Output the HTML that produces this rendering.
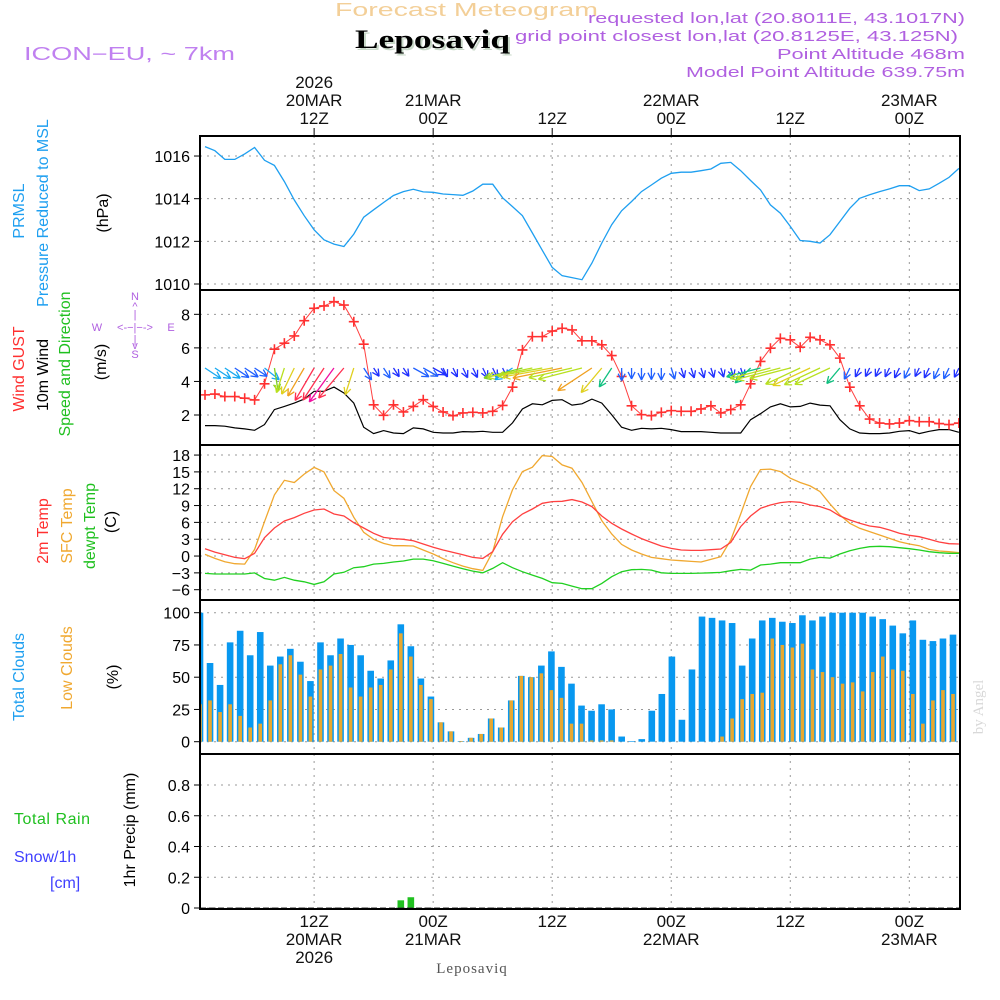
<!DOCTYPE html>
<html><head><meta charset="utf-8">
<style>
body{margin:0;background:#fff;}
svg{display:block;font-family:"Liberation Sans",sans-serif;}
</style></head>
<body>
<svg id="chart" width="1000" height="1000" viewBox="0 0 1000 1000" xmlns="http://www.w3.org/2000/svg">
<rect width="1000" height="1000" fill="#fff"/>
<text x="335" y="16" textLength="263" lengthAdjust="spacingAndGlyphs" fill="#f3cf98" font-size="18">Forecast Meteogram</text>
<text x="357" y="50" textLength="155" lengthAdjust="spacingAndGlyphs" fill="#c8d8c8" font-size="26" font-weight="bold" font-family="Liberation Serif, serif">Leposaviq</text>
<text x="355" y="48" textLength="155" lengthAdjust="spacingAndGlyphs" fill="#000" font-size="26" font-weight="bold" font-family="Liberation Serif, serif">Leposaviq</text>
<text x="24" y="60" textLength="211" lengthAdjust="spacingAndGlyphs" fill="#c080f0" font-size="18">ICON−EU, ~ 7km</text>
<g fill="#b060e0" font-size="15">
<text x="588" y="23" textLength="377" lengthAdjust="spacingAndGlyphs">requested lon,lat (20.8011E, 43.1017N)</text>
<text x="515" y="41" textLength="443" lengthAdjust="spacingAndGlyphs">grid point closest lon,lat (20.8125E, 43.125N)</text>
<text x="777" y="59" textLength="188" lengthAdjust="spacingAndGlyphs">Point Altitude 468m</text>
<text x="686" y="77" textLength="279" lengthAdjust="spacingAndGlyphs">Model Point Altitude 639.75m</text>
</g>
<g id="left-labels" font-size="16">
<text transform="translate(24,211) rotate(-90)" text-anchor="middle" fill="#1e9ff0">PRMSL</text>
<text transform="translate(48,213) rotate(-90)" text-anchor="middle" fill="#1e9ff0">Pressure Reduced to MSL</text>
<text transform="translate(108,213) rotate(-90)" text-anchor="middle" fill="#000">(hPa)</text>
<text transform="translate(24,369) rotate(-90)" text-anchor="middle" fill="#ff3030">Wind GUST</text>
<text transform="translate(48,375) rotate(-90)" text-anchor="middle" fill="#000">10m Wind</text>
<text transform="translate(70,364) rotate(-90)" text-anchor="middle" fill="#20c020">Speed and Direction</text>
<text transform="translate(106,362) rotate(-90)" text-anchor="middle" fill="#000">(m/s)</text>
<g fill="#b060e0" font-size="11" text-anchor="middle">
<text x="135" y="300">N</text><text x="135" y="310">^</text><text x="135" y="318">|</text>
<text x="97" y="331">W</text><text x="135" y="331">&lt;-−|−-&gt;</text><text x="171" y="331">E</text>
<text x="135" y="343">|</text><text x="135" y="349">v</text><text x="135" y="358">S</text>
</g>
<text transform="translate(48,531) rotate(-90)" text-anchor="middle" fill="#ff3030">2m Temp</text>
<text transform="translate(72,526) rotate(-90)" text-anchor="middle" fill="#f0a830">SFC Temp</text>
<text transform="translate(95,526) rotate(-90)" text-anchor="middle" fill="#20c020">dewpt Temp</text>
<text transform="translate(116,522) rotate(-90)" text-anchor="middle" fill="#000">(C)</text>
<text transform="translate(24,677) rotate(-90)" text-anchor="middle" fill="#1e9ff0">Total Clouds</text>
<text transform="translate(72,668) rotate(-90)" text-anchor="middle" fill="#f0a830">Low Clouds</text>
<text transform="translate(118,677) rotate(-90)" text-anchor="middle" fill="#000">(%)</text>
<text transform="translate(135,830) rotate(-90)" text-anchor="middle" fill="#000">1hr Precip (mm)</text>
<text x="14" y="824" textLength="76" lengthAdjust="spacing" fill="#20c020">Total Rain</text>
<text x="14" y="862" fill="#4040ff">Snow/1h</text>
<text x="50" y="888" fill="#4040ff">[cm]</text>
</g>
<text transform="translate(983,707) rotate(-90)" text-anchor="middle" fill="#d8d8d8" font-size="15" font-family="Liberation Serif, serif">by Angel</text>
<text x="472" y="973" text-anchor="middle" fill="#555" font-size="15" font-family="Liberation Serif, serif" letter-spacing="1">Leposaviq</text>
<g id="grid"></g>
<g id="marks"></g>
<g id="frames"></g>
</svg>
<script>
const hoursPressure = [1016.44,1016.25,1015.84,1015.84,1016.1,1016.4,1015.8,1015.56,1014.8,1013.94,1013.2,1012.54,1012.07,1011.87,1011.76,1012.34,1013.13,1013.48,1013.82,1014.15,1014.33,1014.44,1014.32,1014.3,1014.22,1014.19,1014.16,1014.36,1014.68,1014.68,1014.04,1013.63,1013.2,1012.39,1011.58,1010.78,1010.39,1010.3,1010.2,1010.98,1011.92,1012.78,1013.43,1013.87,1014.33,1014.64,1014.96,1015.19,1015.24,1015.24,1015.31,1015.39,1015.66,1015.7,1015.31,1014.85,1014.41,1013.71,1013.32,1012.7,1012.04,1012.0,1011.92,1012.31,1012.93,1013.55,1014.02,1014.18,1014.33,1014.46,1014.61,1014.61,1014.38,1014.46,1014.72,1015.0,1015.42];
const windGust = [3.2,3.25,3.1,3.1,3.0,2.9,3.86,5.92,6.28,6.71,7.62,8.36,8.5,8.75,8.55,7.56,6.22,2.61,1.98,2.61,2.18,2.51,2.91,2.51,2.18,1.96,2.12,2.16,2.12,2.22,2.57,3.66,5.88,6.67,6.67,7.0,7.17,7.07,6.42,6.42,6.18,5.54,4.3,2.55,2.02,1.96,2.16,2.26,2.22,2.22,2.36,2.55,2.12,2.32,2.61,3.86,5.19,5.98,6.57,6.48,6.04,6.63,6.48,6.18,5.39,3.66,2.55,1.76,1.52,1.47,1.52,1.66,1.6,1.6,1.49,1.43,1.52];
const windSpeed = [1.37,1.37,1.33,1.23,1.17,1.09,1.43,2.32,2.51,2.71,2.95,3.41,3.41,3.66,3.31,2.71,1.27,0.89,1.07,0.93,0.89,1.23,1.17,0.97,0.93,0.93,1.01,0.99,1.03,0.97,0.97,1.53,2.36,2.67,2.61,2.87,2.91,2.59,2.67,2.95,2.71,2.02,1.27,1.09,1.21,1.17,1.21,1.13,1.01,1.01,1.01,0.97,0.93,0.93,0.93,1.72,2.08,2.48,2.67,2.48,2.51,2.71,2.59,2.55,1.72,1.17,0.93,0.89,0.89,0.93,1.03,1.07,0.89,1.03,1.13,1.13,0.97];
const windDir = [320,320,320,320,320,320,325,355,10,15,18,18,20,22,25,10,340,340,340,340,340,315,315,315,345,345,345,345,345,345,345,40,65,70,72,72,70,68,65,40,25,20,0,0,0,0,0,350,350,350,350,350,350,350,350,30,65,65,65,65,50,50,50,50,25,15,15,15,15,15,15,15,15,15,15,15,15];
const temp2m = [1.31,0.71,0.24,-0.24,-0.48,0.48,3.27,5.0,6.25,6.85,7.62,8.21,8.39,7.5,7.14,5.95,5.0,4.05,3.33,3.1,2.98,2.74,2.14,1.55,1.07,0.65,0.24,-0.24,-0.42,0.77,3.87,6.13,7.5,8.39,9.4,9.7,9.76,10.06,9.64,8.81,7.14,5.83,4.82,3.93,3.1,2.44,1.79,1.37,1.07,1.01,1.01,1.13,1.25,2.44,5.24,7.14,8.51,9.1,9.52,9.7,9.58,9.1,8.81,8.21,7.14,6.43,5.83,5.36,5.12,4.64,4.05,3.69,3.45,2.98,2.5,2.2,2.14];
const tempSfc = [0.3,-0.42,-1.0,-1.37,-1.43,1.19,6.13,10.9,13.5,13.1,14.6,15.8,15.0,11.67,10.3,6.9,4.23,2.98,2.26,1.85,1.85,1.79,1.07,0.36,-0.48,-1.19,-1.79,-2.26,-2.56,0.77,7.02,11.8,15.06,15.83,17.9,17.74,16.25,15.65,13.1,9.7,6.3,3.93,2.08,1.07,0.36,-0.24,-0.48,-0.71,-0.83,-0.95,-1.07,-0.6,-0.12,2.86,7.5,12.4,15.4,15.5,15.06,13.87,13.1,12.5,11.49,9.29,7.32,5.83,4.94,4.35,3.75,3.15,2.56,2.14,1.85,1.19,0.89,0.77,0.6];
const tempDew = [-3.1,-3.2,-3.2,-3.2,-3.2,-3.0,-4.0,-4.3,-3.8,-4.3,-4.6,-5.06,-4.6,-3.2,-2.9,-2.08,-1.9,-1.43,-1.31,-1.07,-0.89,-0.54,-0.54,-0.83,-1.31,-1.79,-2.26,-2.68,-2.98,-2.2,-1.19,-2.08,-2.8,-3.39,-3.99,-4.76,-4.88,-5.36,-5.83,-5.83,-4.88,-3.69,-2.8,-2.44,-2.38,-2.5,-2.98,-3.1,-3.1,-3.1,-3.04,-2.98,-2.92,-2.62,-2.38,-2.5,-1.6,-1.43,-1.19,-1.19,-1.19,-0.54,-0.24,-0.36,0.36,0.95,1.37,1.67,1.73,1.67,1.49,1.31,1.07,0.77,0.6,0.48,0.48];
const cloudTotal = [100,61,44,77,86,67,85,59,66,72,62,47,77,67,80,75,67,55,49,63,91,74,49,35,15,8,0.5,3,6,18,11,32,51,50,59,70,58,45,28,24,29,25,4,0.5,2,24,37,66,17,56,97,96,94,92,59,80,94,96,93,92,98,94,97,100,100,100,100,97,95,90,84,94,79,78,80,83,89];
const cloudLow = [29,32,23,29,20,11,14,32,60,67,52,35,56,59,68,42,35,42,44,56,84,66,44,33,15,8,0.5,3,6,18,11,32,51,50,53,40,34,14,14,1,1,1,0,0,0,0,0,0,0,0,0,0,4,18,33,37,38,80,75,73,76,56,54,50,45,46,39,54,66,56,55,37,14,32,40,37,29];
const precipRain = {20:0.05,21:0.07};
const pTicks = [1010,1012,1014,1016];
const wTicks = [2,4,6,8];
const tTicks = [-6,-3,0,3,6,9,12,15,18];
const cTicks = [0,25,50,75,100];
const rTicks = [0,0.2,0.4,0.6,0.8];
const timeHours = [12,24,36,48,60,72];
const timeTop = [["2026","20MAR","12Z"],["21MAR","00Z"],["12Z"],["22MAR","00Z"],["12Z"],["23MAR","00Z"]];
const timeBottom = [["12Z","20MAR","2026"],["00Z","21MAR"],["12Z"],["00Z","22MAR"],["12Z"],["00Z","23MAR"]];

const NS="http://www.w3.org/2000/svg";
const X0=200,X1=960;
const xh = h => 205 + (h-1)*9.92;
const xb = i => 200 + i*10.04;
const yP = p => 284 - (p-1010)*21.33;
const yW = v => 415 - (v-2)*16.78;
const yT = t => 589.7 - (t+6)*5.61;
const yC = c => 741.7 - c*1.29;
const yR = r => 908 - r*153.75;
const panels=[[136,290],[290,445],[445,600],[600,754],[754,909]];
const grid=document.getElementById('grid'), marks=document.getElementById('marks'), frames=document.getElementById('frames'), svg=document.getElementById('chart');
function mk(tag,attrs,parent){const e=document.createElementNS(NS,tag);for(const k in attrs)e.setAttribute(k,attrs[k]);parent.appendChild(e);return e;}

const defs=mk('defs',{},svg);
const cp=mk('clipPath',{id:'clipAll'},defs);mk('rect',{x:X0,y:136,width:X1-X0,height:773},cp);
marks.setAttribute('clip-path','url(#clipAll)');

timeHours.forEach((h,i)=>{
  const x=xh(h);
  panels.forEach(p=>{
    const l=mk('line',{x1:x,x2:x,y1:p[0],y2:p[1],stroke:'#999','stroke-dasharray':'2,5'},grid);
    
    
  });
  const t=mk('line',{x1:x,x2:x,y1:128,y2:136,stroke:'#000'},grid);
  
  
  const lines=timeTop[i];
  lines.forEach((s,k)=>{
    const tx=mk('text',{x:x,y:124-(lines.length-1-k)*18,'text-anchor':'middle','font-size':17,fill:'#111'},svg);
    tx.textContent=s;
    
    
  });
  timeBottom[i].forEach((s,k)=>{
    const tx=mk('text',{x:x,y:927+k*18,'text-anchor':'middle','font-size':17,fill:'#111'},svg);
    tx.textContent=s;
    
    
  });
});

function yAxis(ticks,fy,fmt,name){
  ticks.forEach(v=>{
    const y=fy(v);
    const g=mk('line',{x1:X0,x2:X1,y1:y,y2:y,stroke:'#999','stroke-dasharray':'2,5'},grid);
    
    
    const t=mk('line',{x1:X0-6,x2:X0,y1:y,y2:y,stroke:'#000'},grid);
    
    
    const tx=mk('text',{x:X0-10,y:y+6,'text-anchor':'end','font-size':16,fill:'#000'},svg);
    tx.textContent=fmt(v);
    
    
  });
}
yAxis(pTicks,yP,v=>String(v),'pressure');
yAxis(wTicks,yW,v=>String(v),'wind');
yAxis(tTicks,yT,v=>String(v).replace('-','−'),'temp');
yAxis(cTicks,yC,v=>String(v),'clouds');
yAxis(rTicks,yR,v=>v===0?'0':v.toFixed(1),'precip');

function line(arr,fy,color,name,w){
  const pts=arr.map((v,i)=>xh(i+1).toFixed(1)+','+fy(v).toFixed(1)).join(' ');
  const pl=mk('polyline',{points:pts,fill:'none',stroke:color,'stroke-width':w||1.3},marks);
  
  
}
line(hoursPressure,yP,'#1e9ff0','pressure-line');

cloudTotal.forEach((v,i)=>{
  const x=xb(i);
  const r=mk('rect',{x:x-3.3,y:yC(v),width:6.6,height:yC(0)-yC(v),fill:'#0898f0'},marks);
  
  
  const lv=cloudLow[i];
  const r2=mk('rect',{x:x-1.8,y:yC(lv),width:3.6,height:yC(0)-yC(lv),fill:'#e8a830'},marks);
  
  
});
for(const k in precipRain){
  const v=precipRain[k],x=xb(+k);
  const r=mk('rect',{x:x-3.3,y:yR(v),width:6.6,height:yR(0)-yR(v),fill:'#20c020'},marks);
  
  
}
const zl=mk('line',{x1:X0,x2:X1,y1:yR(0),y2:yR(0),stroke:'#333','stroke-dasharray':'6,3'},marks);



line(tempSfc,yT,'#f0a830','sfc-temp-line');
line(temp2m,yT,'#ff4040','temp-2m-line');
line(tempDew,yT,'#20d020','dewpoint-line');

line(windSpeed,yW,'#000','wind-speed-line',1.2);
line(windGust,yW,'#ff4040','wind-gust-line',1);
windGust.forEach((v,i)=>{
  const x=xh(i+1),y=yW(v);
  const p=mk('path',{d:`M${x-5},${y}H${x+5}M${x},${y-5}V${y+5}`,stroke:'#ff3030','stroke-width':1.6},marks);
  
  
});
function wcol(s){
  if(s<1.05)return '#2030ff';
  if(s<1.3)return '#2060ff';
  if(s<1.6)return '#18a8f0';
  if(s<2.1)return '#10c080';
  if(s<2.45)return '#80d020';
  if(s<2.7)return '#b8e020';
  if(s<2.9)return '#e0d020';
  if(s<3.2)return '#f0a020';
  if(s<3.5)return '#ff3050';
  return '#f010a0';
}
windDir.forEach((d,i)=>{
  const s=windSpeed[i],x=xh(i+1),y=368,r=d*Math.PI/180;
  const dx=-Math.sin(r)*s*18, dy=Math.cos(r)*s*10;
  const L=Math.hypot(dx,dy),ux=dx/L,uy=dy/L,hx=x+dx,hy=y+dy;
  const c=wcol(s);
  const a=mk('path',{d:`M${x},${y}L${hx},${hy}M${hx},${hy}L${hx-ux*7-uy*3.5},${hy-uy*7+ux*3.5}M${hx},${hy}L${hx-ux*7+uy*3.5},${hy-uy*7-ux*3.5}`,stroke:c,'stroke-width':1.3,fill:'none'},marks);
  
  
});

panels.forEach(p=>{
  const r=mk('rect',{x:X0,y:p[0],width:X1-X0,height:p[1]-p[0],fill:'none',stroke:'#000','stroke-width':2},frames);
  
  
});
</script>
</body></html>
